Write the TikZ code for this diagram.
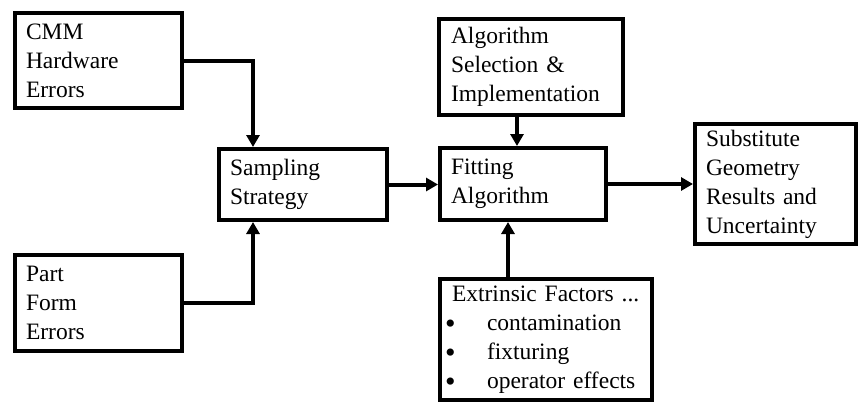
\documentclass[tikz,border=0pt]{standalone}
\usepackage{fontspec}
\setmainfont{Liberation Serif}
\usetikzlibrary{arrows.meta}

\tikzset{
  blockbox/.style={draw=black, line width=4pt, rectangle, fill=white,
    align=left, inner xsep=11pt, inner ysep=0pt,
    font=\fontsize{23.5}{29}\selectfont},
  flow/.style={draw=black, line width=4pt,
    -{Triangle[length=12pt,width=13pt]}},
}
% list bullet followed by a fixed indent
\newcommand{\itembullet}{\makebox[39pt][l]{\hspace*{-3pt}\raisebox{-3pt}{\fontsize{30}{29}\selectfont\textbullet}}}

\begin{document}
\begin{tikzpicture}[x=1pt, y=-1pt]
  \useasboundingbox (0,0) rectangle (859,402);

  % input and processing blocks
  \node[blockbox, minimum width=167pt, minimum height=95pt, text width=145pt]
    (cmm) at (98.5,60.5) {CMM\\Hardware\\Errors};
  \node[blockbox, minimum width=167pt, minimum height=96pt, text width=145pt]
    (part) at (98.5,303) {Part\\Form\\Errors};
  \node[blockbox, minimum width=168pt, minimum height=71pt, text width=146pt]
    (samp) at (303,184.5) {Sampling\\Strategy};
  \node[blockbox, minimum width=166pt, minimum height=72pt, text width=144pt]
    (fit) at (523,184) {Fitting\\Algorithm};
  \node[blockbox, minimum width=184pt, minimum height=96pt, text width=160pt,
        inner xsep=12pt]
    (alg) at (531,67) {Algorithm\\Selection \&\\Implementation};
  \node[blockbox, minimum width=161pt, minimum height=120pt, text width=139pt]
    (subst) at (775.5,184) {Substitute\\Geometry\\Results and\\Uncertainty};
  \node[blockbox, minimum width=212pt, minimum height=121pt, text width=196pt,
        inner xsep=8pt]
    (ext) at (546,339.5)
    {\hspace*{4pt}Extrinsic Factors ...\\
     \itembullet contamination\\
     \itembullet fixturing\\
     \itembullet operator effects};

  % connectors
  \draw[flow] (cmm.east) -| ([xshift=36pt]samp.north west);
  \draw[flow] (part.east) -| ([xshift=36pt]samp.south west);
  \draw[flow] (samp.east) -- (samp.east -| fit.west);
  \draw[flow] ([xshift=79pt]fit.north west |- alg.south)
           -- ([xshift=79pt]fit.north west);
  \draw[flow] ([xshift=70pt]ext.north west)
           -- ([xshift=70pt]ext.north west |- fit.south);
  \draw[flow] (fit.east) -- (fit.east -| subst.west);
\end{tikzpicture}
\end{document}
